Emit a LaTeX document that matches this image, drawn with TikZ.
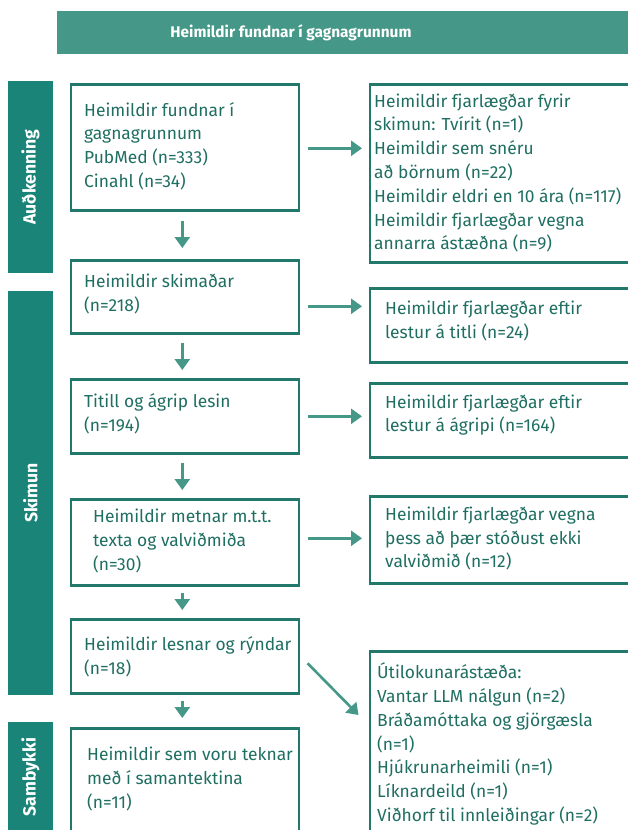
\documentclass[tikz,border=0pt]{standalone}
\usepackage{fontspec}
\setmainfont{Fira Sans}
\usetikzlibrary{arrows.meta,calc}
\definecolor{banner}{HTML}{459888}
\definecolor{bar}{HTML}{1B8478}
\definecolor{edge}{HTML}{22786A}
\definecolor{txt}{HTML}{1F6E62}
\definecolor{arrowc}{HTML}{459888}
\begin{document}
\begin{tikzpicture}[x=1pt,y=-1pt,
  box/.style={draw=edge, line width=2.6pt, inner sep=0pt, anchor=north west},
  lbl/.style={text=txt, align=left, inner sep=0pt, anchor=west, font=\fontsize{17.4}{23.8}\selectfont},
  side/.style={fill=bar, inner sep=0pt, minimum width=45pt},
  sidetxt/.style={text=white, rotate=90, inner sep=0pt, font=\bfseries\fontsize{17.6}{19}\selectfont},
  arr/.style={draw=arrowc, line width=2.6pt, -{Triangle[width=15pt,length=11pt]}}]
\useasboundingbox (0,0) rectangle (628,830);
\clip (0,0) rectangle (628,830);

% banner
\node[fill=banner, inner sep=0pt, minimum width=573pt, minimum height=43pt, anchor=north west] (ban) at (57,11) {};
\node[text=white, inner sep=0pt, font=\bfseries\fontsize{15.4}{19}\selectfont] (bant) at (291,32.5) {Heimildir fundnar í gagnagrunnum};

% side bars
\node[side, minimum height=192pt] (s1) at (30.5,177) {};
\node[sidetxt] (s1t) at (s1) {Auðkenning};
\node[side, minimum height=404pt] (s2) at (30.5,493) {};
\node[sidetxt] (s2t) at (s2) {Skimun};
\node[side, minimum height=110pt] (s3) at (30.5,777) {};
\node[sidetxt] (s3t) at (s3) {Sambykki};

% left boxes
\node[box, minimum width=228pt, minimum height=126pt] (b1) at (69.5,83) {};
\node[lbl] (t1) at (84,146) {Heimildir fundnar í\\gagnagrunnum\\PubMed (n=333)\\Cinahl (n=34)};
\node[box, minimum width=228pt, minimum height=73pt] (b2) at (69.5,259) {};
\node[lbl] (t2) at (84,294) {Heimildir skimaðar\\(n=218)};
\node[box, minimum width=228pt, minimum height=74pt] (b3) at (69.5,378) {};
\node[lbl] (t3) at (84,414) {Titill og ágrip lesin\\(n=194)};
\node[box, minimum width=228pt, minimum height=86pt] (b4) at (69.5,498) {};
\node[lbl] (t4) at (93,541) {Heimildir metnar m.t.t.\\texta og valviðmiða\\(n=30)};
\node[box, minimum width=228pt, minimum height=74pt] (b5) at (69.5,618) {};
\node[lbl] (t5) at (84,657) {Heimildir lesnar og rýndar\\(n=18)};
\node[box, minimum width=228pt, minimum height=105pt] (b6) at (69.5,727) {};
\node[lbl] (t6) at (87,779) {Heimildir sem voru teknar\\með í samantektina\\(n=11)};

% right boxes
\node[box, minimum width=262pt, minimum height=178pt] (r1) at (368.5,83) {};
\node[lbl] (u1) at (374,173) {Heimildir fjarlægðar fyrir\\skimun: Tvírit (n=1)\\Heimildir sem snéru\\að börnum (n=22)\\Heimildir eldri en 10 ára (n=117)\\Heimildir fjarlægðar vegna\\annarra ástæðna (n=9)};
\node[box, minimum width=262pt, minimum height=74pt] (r2) at (368.5,287) {};
\node[lbl] (u2) at (385,321) {Heimildir fjarlægðar eftir\\lestur á titli (n=24)};
\node[box, minimum width=262pt, minimum height=74pt] (r3) at (368.5,382) {};
\node[lbl] (u3) at (385,415) {Heimildir fjarlægðar eftir\\lestur á ágripi (n=164)};
\node[box, minimum width=262pt, minimum height=87pt] (r4) at (368.5,495) {};
\node[lbl] (u4) at (385,538.5) {Heimildir fjarlægðar vegna\\þess að þær stóðust ekki\\valviðmið (n=12)};
\node[box, minimum width=262pt, minimum height=190pt] (r5) at (368.5,650) {};
\node[lbl] (u5) at (377,744) {Útilokunarástæða:\\Vantar LLM nálgun (n=2)\\Bráðamóttaka og gjörgæsla\\(n=1)\\Hjúkrunarheimili (n=1)\\Líknardeild (n=1)\\Viðhorf til innleiðingar (n=2)};

% vertical arrows
\draw[arr] ($(b1.south)+(-2.5,9)$) -- ($(b2.north)+(-2.5,-11)$);
\draw[arr] ($(b2.south)+(-2.5,8)$) -- ($(b3.north)+(-2.5,-8)$);
\draw[arr] ($(b3.south)+(-2.5,8)$) -- ($(b4.north)+(-2.5,-8)$);
\draw[arr] ($(b4.south)+(-2.5,6)$) -- ($(b5.north)+(-2.5,-8)$);
\draw[arr] ($(b5.south)+(-2.5,6)$) -- ($(b6.north)+(-2.5,-9)$);

% horizontal arrows
\draw[arr] ($(b1.east)+(7.5,1)$) -- ($(r1.west |- b1.east)+(-6.5,1)$);
\draw[arr] ($(b2.east)+(7.5,9.5)$) -- ($(r2.west |- b2.east)+(-6.5,9.5)$);
\draw[arr] ($(b3.east)+(7.5,0)$) -- ($(r3.west |- b3.east)+(-6.5,0)$);
\draw[arr] ($(b4.east)+(7.5,-4)$) -- ($(r4.west |- b4.east)+(-6.5,-4)$);
\draw[arr] ($(b5.east)+(7.5,7)$) -- ($(r5.north west)+(-10,65)$);
\end{tikzpicture}
\end{document}
